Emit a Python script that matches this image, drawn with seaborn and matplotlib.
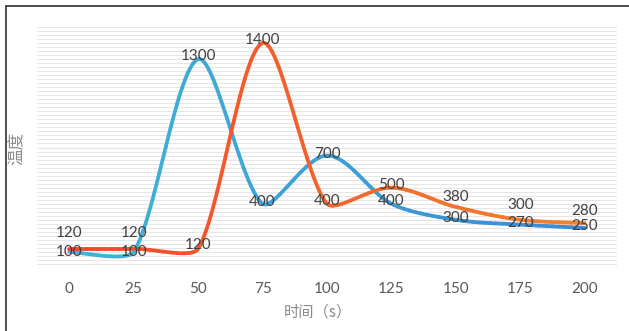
import numpy as np
import pandas as pd
import matplotlib
matplotlib.use("Agg")
import matplotlib.pyplot as plt
from matplotlib.colors import LinearSegmentedColormap, to_hex
from matplotlib.lines import Line2D
import seaborn as sns

# Data
time_s = [0, 25, 50, 75, 100, 125, 150, 175, 200]
temp_a = [100, 100, 1300, 400, 700, 400, 300, 270, 250]
temp_b = [120, 120, 120, 1400, 400, 500, 380, 300, 280]

# Label offsets (points) for each data label
off_a = [0, 0, 2, 1, 1, 2, 1, 1, 1]
off_b = [11, 11, 3, 2, 2, 2, 7, 11, 9]

sns.set_theme(style="white")
plt.rcParams["font.family"] = ["Lato", "Noto Sans CJK SC", "DejaVu Sans"]

fig = plt.figure(figsize=(6.29, 3.31), dpi=100)
ax = fig.add_axes([37 / 629, 1 - 268 / 331, 580 / 629, 241 / 331])
XLIM = (-12.5, 212.5)
YLIM = (0, 1500)
ax.set_xlim(*XLIM)
ax.set_ylim(*YLIM)


def smooth(xs, ys, n=40):
    """Bezier smoothing in screen space; handles shrink on the shorter chord."""
    P = ax.transData.transform(np.column_stack([xs, ys]).astype(float))
    m = len(P)
    back, fwd = [], []
    for i in range(m):
        a, b = P[max(i - 1, 0)], P[min(i + 1, m - 1)]
        tv = (b - a) / 6
        d_prev = np.linalg.norm(P[i] - a)
        d_next = np.linalg.norm(b - P[i])
        dmax = max(d_prev, d_next)
        back.append(tv * d_prev / dmax)
        fwd.append(tv * d_next / dmax)
    out = []
    for i in range(m - 1):
        p1, p2 = P[i], P[i + 1]
        c1 = p1 + fwd[i]
        c2 = p2 - back[i + 1]
        t = np.linspace(0, 1, n, endpoint=(i == m - 2))[:, None]
        seg = ((1 - t) ** 3) * p1 + 3 * t * (1 - t) ** 2 * c1 + 3 * t ** 2 * (1 - t) * c2 + t ** 3 * p2
        out.append(seg)
    S = ax.transData.inverted().transform(np.vstack(out))
    return S[:, 0], S[:, 1]


def gradient_line(xs, ys, c_start, c_end, nseg=90):
    sx, sy = smooth(xs, ys)
    idx = np.linspace(0, len(sx) - 1, nseg + 1).astype(int)
    rows = []
    for s in range(nseg):
        for j in range(idx[s], idx[s + 1] + 1):
            rows.append((sx[j], sy[j], s))
    df = pd.DataFrame(rows, columns=["x", "y", "seg"])
    cmap = LinearSegmentedColormap.from_list("g", [c_start, c_end])
    pal = [to_hex(cmap(s / (nseg - 1))) for s in range(nseg)]
    sns.lineplot(data=df, x="x", y="y", hue="seg", palette=pal, sort=False,
                 estimator=None, legend=False, ax=ax, linewidth=2.7,
                 solid_capstyle="round", solid_joinstyle="round")


gradient_line(time_s, temp_a, "#41b4d4", "#3a8bd6")
gradient_line(time_s, temp_b, "#f5452b", "#f1832c")

# Data labels
for x, y, o in zip(time_s, temp_a, off_a):
    ax.annotate(str(y), (x, y), xytext=(0, o), textcoords="offset points",
                ha="center", va="center", fontsize=11, color="#404040")
for x, y, o in zip(time_s, temp_b, off_b):
    ax.annotate(str(y), (x, y), xytext=(0, o), textcoords="offset points",
                ha="center", va="center", fontsize=11, color="#404040")

ax.set_xlim(*XLIM)
ax.set_ylim(*YLIM)
ax.set_xticks(time_s)
ax.set_xticklabels([str(t) for t in time_s])
ax.set_yticks(np.arange(0, 1501, 25))
ax.set_yticklabels([])
ax.yaxis.grid(True, color="#e6e6e6", linewidth=0.8)
ax.xaxis.grid(False)
ax.set_axisbelow(True)
ax.tick_params(axis="x", length=0, pad=10, labelsize=11, labelcolor="#595959")
ax.tick_params(axis="y", length=0)
for s in ax.spines.values():
    s.set_visible(False)
ax.set_xlabel("")
ax.set_ylabel("")

# Axis titles
fig.text(318 / 629, 1 - 312 / 331, "时间（s）", ha="center", va="center",
         fontsize=11, color="#8a8a8a", family=["Noto Sans CJK SC", "DejaVu Sans"])
fig.text(17 / 629, 1 - 148 / 331, "温度", ha="center", va="center", rotation=90,
         fontsize=12, color="#8a8a8a", family=["Noto Sans CJK SC", "DejaVu Sans"])

# Chart frame (left and top edges)
fig.add_artist(Line2D([5.5 / 629, 5.5 / 629], [0, 1 - 6 / 331], transform=fig.transFigure,
                      color="#404040", linewidth=1.3))
fig.add_artist(Line2D([5.5 / 629, 1], [1 - 6 / 331, 1 - 6 / 331], transform=fig.transFigure,
                      color="#404040", linewidth=1.3))

fig.savefig("out.png", dpi=100)
